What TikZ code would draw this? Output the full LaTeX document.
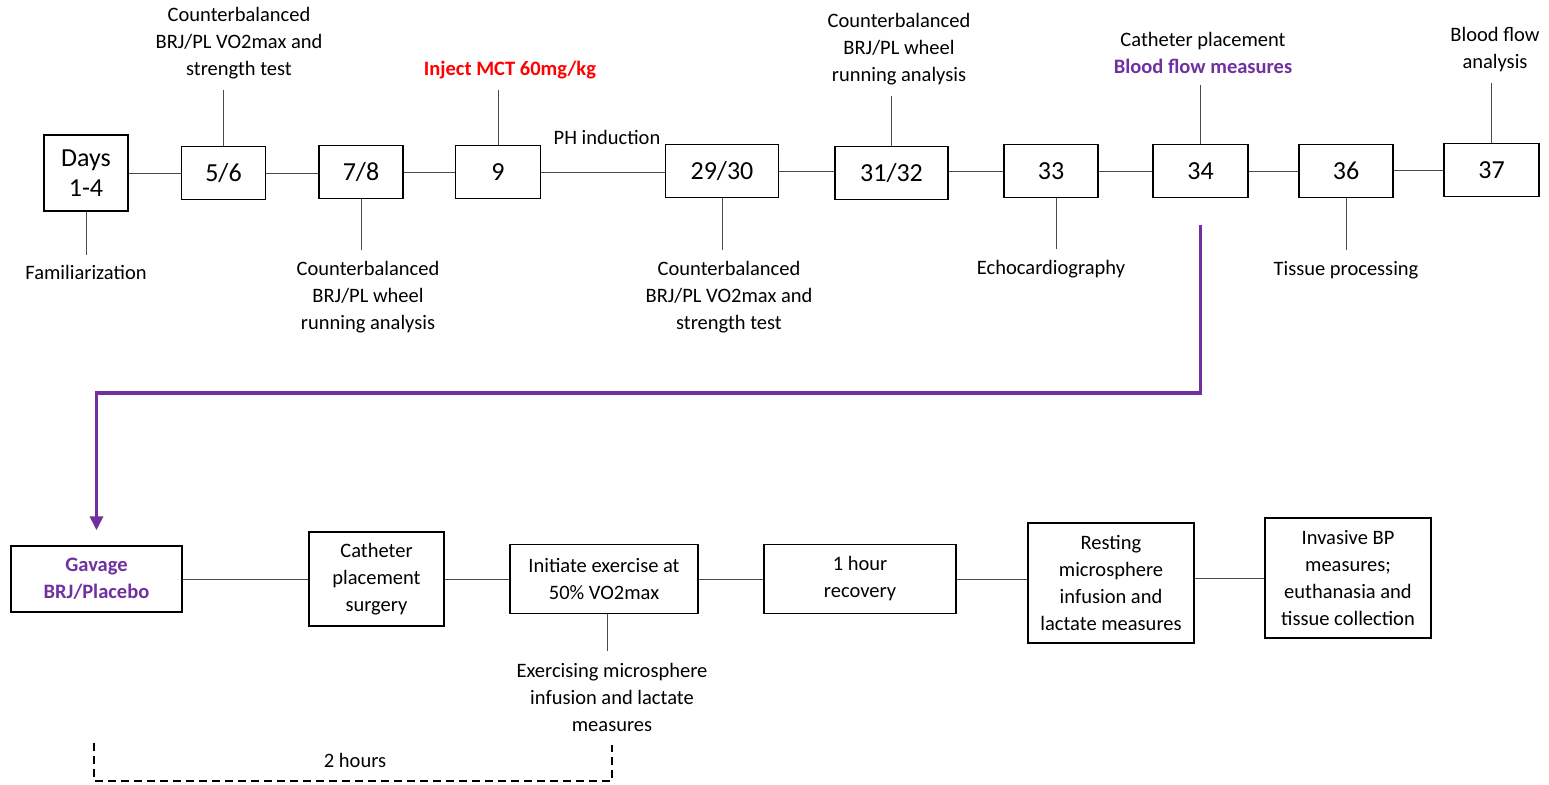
\documentclass[tikz,border=0pt]{standalone}
\usepackage{fontspec}
\setmainfont{Carlito}
\usepackage{xcolor}
\usetikzlibrary{positioning,arrows.meta}
\definecolor{mctred}{HTML}{FF0000}
\definecolor{bfpurple}{HTML}{7030A0}

\begin{document}
\begin{tikzpicture}[
  x=1pt, y=-1pt,
  font=\fontsize{20.5}{27}\selectfont,
  day/.style={draw=black, line width=1.4pt, minimum width=84pt, minimum height=53pt, inner sep=2pt, align=center, font=\fontsize{26}{30}\selectfont},
  stagebox/.style={draw=black, line width=1.4pt, align=center, inner sep=2pt},
  note/.style={align=center, inner sep=0pt},
  link/.style={draw=black!70, line width=1pt},
  tick/.style={link, shorten >=#1},
  tick/.default=11pt,
  flow/.style={draw=bfpurple, line width=3.5pt, -{Triangle[length=14pt,width=13pt]}, shorten >=15pt},
  span/.style={draw=black, line width=2.2pt, dash pattern=on 8pt off 5pt}
]
\useasboundingbox (0,0) rectangle (1549,784);

% timeline of days
\node[day, minimum height=76pt] (d14) at (86,173) {Days\\1-4};
\node[day] (d56) at (223.5,173) {5/6};
\node[day] (d78) at (361,172) {7/8};
\node[day, minimum width=85pt] (d9) at (498,172) {9};
\node[day, minimum width=113pt] (d2930) at (722,171) {29/30};
\node[day, minimum width=113pt] (d3132) at (891.5,173) {31/32};
\node[day, minimum width=94pt] (d33) at (1051,171) {33};
\node[day, minimum width=95pt] (d34) at (1200.5,171) {34};
\node[day, minimum width=94pt] (d36) at (1346,171) {36};
\node[day, minimum width=95pt] (d37) at (1491.5,170) {37};

% notes on the timeline
\node[note] (fam) at (86,272) {Familiarization};
\node[note] (t56) at (239,43) {Counterbalanced\\BRJ/PL VO2max and\\strength test};
\node[note] (t78) at (368,297) {Counterbalanced\\BRJ/PL wheel\\running analysis};
\node[note, text=mctred, font=\fontsize{20.5}{27}\selectfont\bfseries] (inj) at (510,70) {Inject MCT 60mg/kg};
\node[note] (ph) at (607,137) {PH induction};
\node[note] (t2930) at (729,297) {Counterbalanced\\BRJ/PL VO2max and\\strength test};
\node[note] (t3132) at (899,49) {Counterbalanced\\BRJ/PL wheel\\running analysis};
\node[note] (echo) at (1051,269) {Echocardiography};
\node[note] (t34) at (1203,53) {Catheter placement\\\textcolor{bfpurple}{\bfseries Blood flow measures}};
\node[note] (tis) at (1346,270) {Tissue processing};
\node[note] (t37) at (1495,50) {Blood flow\\analysis};

\draw[link] (d14.east |- d56.west) -- (d56.west);
\draw[link] (d56.east) -- (d56.east -| d78.west);
\draw[link] (d78.east) -- (d78.east -| d9.west);
\draw[link] (d9.east) -- (d9.east -| d2930.west);
\draw[link] (d2930.east) -- (d2930.east -| d3132.west);
\draw[link] (d3132.east |- d33.west) -- (d33.west);
\draw[link] (d33.east) -- (d33.east -| d34.west);
\draw[link] (d34.east) -- (d34.east -| d36.west);
\draw[link] (d36.east |- d37.west) -- (d37.west);

\draw[tick=10pt] (d14.south) -- (d14.south |- fam.north);
\draw[tick] (d56.north) -- (d56.north |- t56.south);
\draw[tick] (d78.south) -- (d78.south |- t78.north);
\draw[tick] (d9.north) -- (d9.north |- inj.south);
\draw[tick] (d2930.south) -- (d2930.south |- t2930.north);
\draw[tick] (d3132.north) -- (d3132.north |- t3132.south);
\draw[tick] ([xshift=5pt]d33.south) -- ([xshift=5pt]d33.south |- echo.north);
\draw[tick] (d34.north) -- (d34.north |- t34.south);
\draw[tick] (d36.south) -- (d36.south |- tis.north);
\draw[tick] (d37.north) -- (d37.north |- t37.south);

% day 34 in detail
\node[stagebox, minimum width=171pt, minimum height=66pt, text=bfpurple, font=\fontsize{20.5}{27}\selectfont\bfseries] (gav) at (96.5,579) {Gavage\\BRJ/Placebo};
\node[stagebox, minimum width=135pt, minimum height=94pt] (cath) at (376.5,579) {Catheter\\placement\\surgery};
\node[stagebox, minimum width=188pt, minimum height=69pt] (init) at (604,579) {Initiate exercise at\\50\% VO2max};
\node[stagebox, minimum width=192pt, minimum height=69pt] (rec) at (860,579) {1 hour\\recovery};
\node[stagebox, minimum width=166pt, minimum height=120pt] (rest) at (1111,583) {Resting\\microsphere\\infusion and\\lactate measures};
\node[stagebox, minimum width=166pt, minimum height=120pt] (inv) at (1348,578) {Invasive BP\\measures;\\euthanasia and\\tissue collection};
\node[note] (exer) at (612,697) {Exercising microsphere\\infusion and lactate\\measures};

\draw[link] (gav) -- (cath);
\draw[link] (cath) -- (init);
\draw[link] (init) -- (rec);
\draw[link] (rec.east) -- (rec.east -| rest.west);
\draw[link] (rest.east |- inv.west) -- (inv.west);
\draw[tick=12pt] ([xshift=3pt]init.south) -- ([xshift=3pt]init.south |- exer.north);

% blood flow day expanded
\coordinate (bf) at ([yshift=-27pt]d34.south);
\coordinate (bend) at (96.5,393);
\draw[flow] (bf) |- (bend) -- (gav.north);

% two hour span
\coordinate (hl) at (94,743);
\coordinate (hr) at (612,745);
\draw[span] (hl) -- (94,781) -- (612,781) -- (hr);
\node[note] (hrs) at (355,760) {2 hours};
\end{tikzpicture}
\end{document}
